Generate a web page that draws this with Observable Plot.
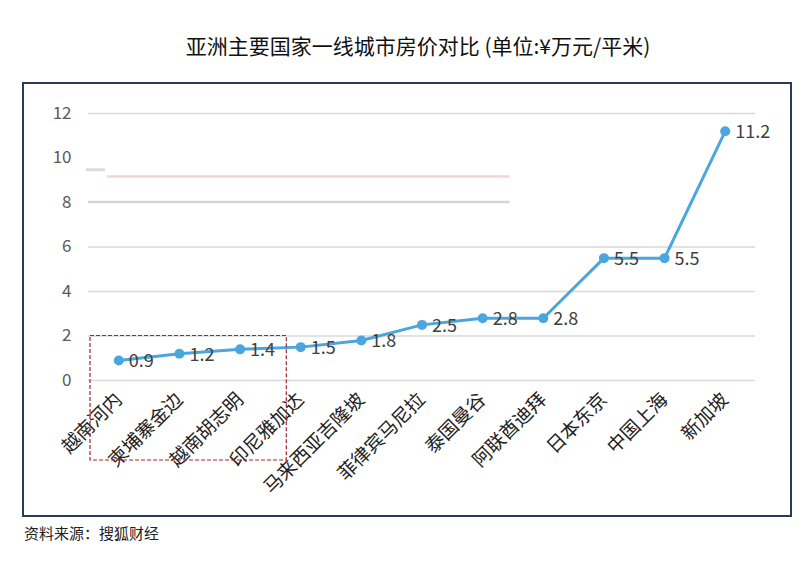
<!DOCTYPE html>
<html>
<head>
<meta charset="utf-8">
<script src="https://cdn.jsdelivr.net/npm/d3@7"></script>
<script src="https://cdn.jsdelivr.net/npm/@observablehq/plot@0.6"></script>
<style>
  html, body { margin: 0; padding: 0; background: #ffffff; }
  body { width: 802px; height: 574px; position: relative; font-family: "Noto Sans CJK SC", "Noto Sans", sans-serif; }
  #title { position: absolute; left: 0; top: 30px; width: 836px; text-align: center; font-size: 21px; color: #111; }
  #box { position: absolute; left: 22px; top: 82px; width: 766px; height: 431px; border: 2px solid #2b3a55; }
  #box svg { position: absolute; left: 0; top: 0; display: block; }
  #caption { position: absolute; left: 24px; top: 522px; font-size: 15px; color: #222; }
</style>
</head>
<body>
<div id="title">亚洲主要国家一线城市房价对比 (单位:¥万元/平米)</div>
<div id="box"></div>
<div id="caption">资料来源：搜狐财经</div>
<script>
const categories = ["越南河内", "柬埔寨金边", "越南胡志明", "印尼雅加达", "马来西亚吉隆坡", "菲律宾马尼拉", "泰国曼谷", "阿联酋迪拜", "日本东京", "中国上海", "新加坡"];
const values = [0.9, 1.2, 1.4, 1.5, 1.8, 2.5, 2.8, 2.8, 5.5, 5.5, 11.2];
const yTickLabels = [0, 2, 4, 6, 8, 10, 12];
const fullGridLines = [0, 2, 4, 6, 12];
const partialGridLines = [8];
const pinkLineLevel = [9.15];
const greyStubLevel = [9.45];

const data = categories.map((c, i) => ({ city: c, value: values[i] }));

const chart = Plot.plot({
  width: 766,
  height: 431,
  marginLeft: 64,
  marginRight: 35,
  marginTop: 29,
  marginBottom: 135,
  x: { type: "point", domain: categories, padding: 0.5, round: false, label: null },
  y: { domain: [0, 12], label: null },
  style: { fontFamily: "'Noto Sans CJK SC', 'Noto Sans', sans-serif", background: "transparent", overflow: "visible" },
  marks: [
    Plot.ruleY(fullGridLines, { stroke: "#d9d9d9", strokeWidth: 1.5 }),
    Plot.axisY({ ticks: yTickLabels, tickSize: 0, tickPadding: 17, fontSize: 17, fill: "#595959", label: null }),
    Plot.axisX({ tickSize: 0, tickRotate: -45, tickPadding: 16, fontSize: 19, fill: "#222", label: null }),
    Plot.line(data, { x: "city", y: "value", stroke: "#4aa6dc", strokeWidth: 3 }),
    Plot.dot(data, { x: "city", y: "value", r: 5, fill: "#4aa6dc" }),
    Plot.text(data, { x: "city", y: "value", text: d => d.value.toFixed(1), dx: 10, dy: 1, textAnchor: "start", fontSize: 18, fill: "#404040" })
  ]
});

document.getElementById("box").appendChild(chart);

// decorative partial lines and dashed annotation, positioned from the chart's own scales
const xs = chart.scale("x");
const ys = chart.scale("y");
const step = xs.apply(categories[1]) - xs.apply(categories[0]);
const left = xs.apply(categories[0]) - step / 2;
const gridEnd = xs.apply(categories[6]) + step * 0.45;
const svg = d3.select(chart);
const g = svg.append("g");
g.selectAll("line.p8").data(partialGridLines).join("line")
  .attr("x1", left).attr("x2", gridEnd)
  .attr("y1", d => ys.apply(d)).attr("y2", d => ys.apply(d))
  .attr("stroke", "#d4d4d4").attr("stroke-width", 2.5);
g.selectAll("line.pk").data(pinkLineLevel).join("line")
  .attr("x1", left + step * 0.32).attr("x2", gridEnd)
  .attr("y1", d => ys.apply(d)).attr("y2", d => ys.apply(d))
  .attr("stroke", "#f6d4d4").attr("stroke-width", 2.5);
g.selectAll("line.gs").data(greyStubLevel).join("line")
  .attr("x1", left - 2).attr("x2", left + step * 0.28)
  .attr("y1", d => ys.apply(d)).attr("y2", d => ys.apply(d))
  .attr("stroke", "#dcdcdc").attr("stroke-width", 3);
const rx1 = left + 2;
const rx2 = xs.apply(categories[2]) + step * 0.77;
const ry1 = ys.apply(2);
const ry2 = ys.apply(0) + 80;
svg.append("rect")
  .attr("x", rx1).attr("y", ry1)
  .attr("width", rx2 - rx1).attr("height", ry2 - ry1)
  .attr("fill", "none").attr("stroke", "#a3232f").attr("stroke-width", 1.2)
  .attr("stroke-dasharray", "4,2");
</script>
</body>
</html>
